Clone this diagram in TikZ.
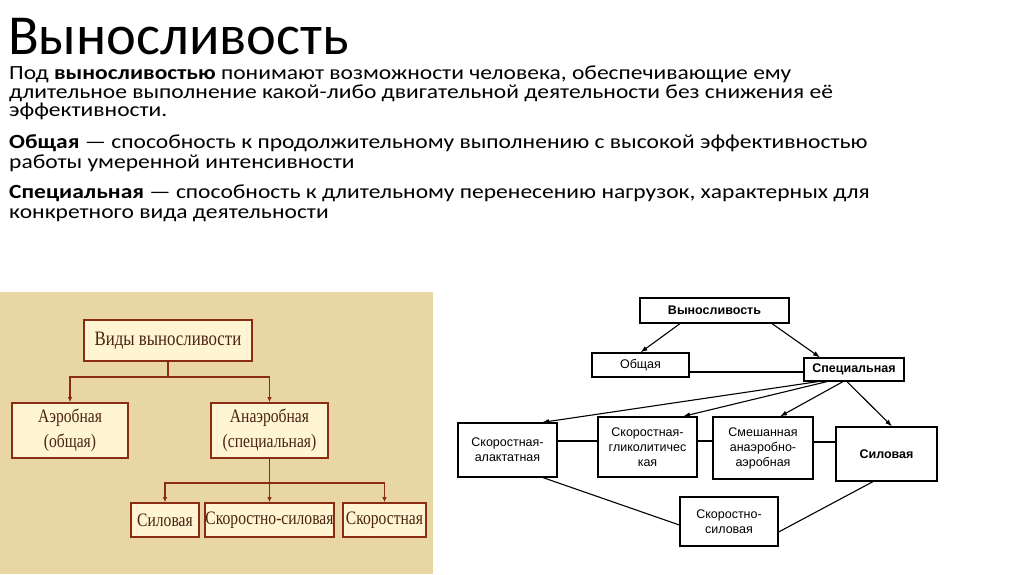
\documentclass[tikz,border=0pt]{standalone}
\usepackage{fontspec}
\setmainfont{Carlito}
\newfontfamily\bodyfont[FakeStretch=1.17]{Carlito}
\newfontfamily\serifru[FakeStretch=0.82]{Liberation Serif}
\newfontfamily\sansru{Liberation Sans}
\usetikzlibrary{arrows.meta}
\definecolor{beige}{HTML}{E8D6A4}
\definecolor{boxfill}{HTML}{FFF5D2}
\definecolor{boxline}{HTML}{8A2C14}
\definecolor{boxtext}{HTML}{4A2410}
\tikzset{
  lineT/.style={anchor=base west, inner sep=0pt, text height=0.7em, text depth=0.2em, font=\bodyfont\fontsize{20.1}{20}\selectfont},
  lbox/.style={draw=boxline, line width=1.6pt, fill=boxfill, text=boxtext, inner sep=0pt, align=center,
     font=\serifru\fontsize{19}{25}\selectfont},
  larr/.style={draw=boxline, line width=1.4pt, -{Latex[length=5pt,width=4.5pt]}},
  lline/.style={draw=boxline, line width=1.4pt},
  rbox/.style={draw=black, line width=1.2pt, fill=white, inner sep=0pt, align=center,
     font=\sansru\fontsize{12.5}{15}\selectfont},
  rbold/.style={font=\sansru\bfseries\fontsize{12.5}{15}\selectfont},
  rarr/.style={draw=black, line width=1.1pt, -{Latex[length=7pt,width=5pt]}},
  rline/.style={draw=black, line width=1.1pt}
}
\begin{document}
\begin{tikzpicture}[x=1pt,y=-1pt]
\useasboundingbox (0,0) rectangle (1024,574);
\fill[white] (0,0) rectangle (1024,574);
% title and text
\node[anchor=base west, inner sep=0pt, text depth=0pt, font=\fontsize{56.5}{56.5}\selectfont] (title) at (8,54) {Выносливость};
\node[lineT] (t1) at (9,79) {Под \textbf{выносливостью} понимают возможности человека, обеспечивающие ему};
\node[lineT] (t2) at (9,98) {длительное выполнение какой-либо двигательной деятельности без снижения её};
\node[lineT] (t3) at (9,116) {эффективности.};
\node[lineT] (t4) at (9,148) {\textbf{Общая} — способность к продолжительному выполнению с высокой эффективностью};
\node[lineT] (t5) at (9,168) {работы умеренной интенсивности};
\node[lineT] (t6) at (9,198) {\textbf{Специальная} — способность к длительному перенесению нагрузок, характерных для};
\node[lineT] (t7) at (9,218) {конкретного вида деятельности};
% left picture
\fill[beige] (0,292) rectangle (433,574);
\node[lbox, minimum width=168pt, minimum height=41pt, font=\serifru\fontsize{20.5}{25}\selectfont] (vid) at (168,340.5) {Виды выносливости};
\node[lbox, minimum width=116pt, minimum height=55pt] (aer) at (70,430.5) {Аэробная\\(общая)};
\node[lbox, minimum width=117pt, minimum height=55pt] (anaer) at (269.5,430.5) {Анаэробная\\(специальная)};
\node[lbox, minimum width=68pt, minimum height=34pt] (sil) at (165,520) {Силовая};
\node[lbox, minimum width=129pt, minimum height=34pt] (sks) at (269.5,520) {Скоростно-силовая};
\node[lbox, minimum width=83pt, minimum height=34pt] (sk) at (384.5,520) {Скоростная};
\coordinate (j1) at (168,377);
\coordinate (j2) at (269.5,483);
\draw[lline] (vid.south) -- (j1);
\draw[larr] (j1) -| (aer.north);
\draw[larr] (j1) -| (anaer.north);
\draw[lline] (anaer.south) -- (j2);
\draw[larr] (j2) -| (sil.north);
\draw[larr] (j2) -- (sks.north);
\draw[larr] (j2) -| (sk.north);
% right diagram
\node[rbox, rbold, minimum width=149pt, minimum height=25pt] (vyn) at (714.5,310.5) {Выносливость};
\node[rbox, minimum width=97pt, minimum height=24pt] (obsh) at (640.5,365) {Общая};
\node[rbox, rbold, minimum width=100pt, minimum height=23pt] (spec) at (854,369.5) {Специальная};
\node[rbox, minimum width=99pt, minimum height=54pt] (alak) at (507.5,450) {Скоростная-\\алактатная};
\node[rbox, minimum width=99pt, minimum height=60pt] (glik) at (647.5,447) {Скоростная-\\гликолитичес\\кая};
\node[rbox, minimum width=100pt, minimum height=62pt] (smesh) at (763,448) {Смешанная\\анаэробно-\\аэробная};
\node[rbox, rbold, minimum width=101pt, minimum height=54pt] (silr) at (886.5,454) {Силовая};
\node[rbox, minimum width=98pt, minimum height=49pt] (sksr) at (729,521.5) {Скоростно-\\силовая};
\draw[rarr] ([xshift=-34.5pt]vyn.south) -- (obsh.north);
\draw[rarr] ([xshift=57.5pt]vyn.south) -- ([xshift=-34pt]spec.north);
\draw[rline] ([yshift=-7pt]obsh.east) -- ([yshift=-7pt]obsh.east -| spec.west);
\draw[rarr] ([xshift=-36pt]spec.south) -- ([xshift=34.5pt]alak.north);
\draw[rarr] ([xshift=-27pt]spec.south) -- ([xshift=35.5pt]glik.north);
\draw[rarr] ([xshift=-11pt]spec.south) -- ([xshift=17pt]smesh.north);
\draw[rarr] ([xshift=-7pt]spec.south) -- ([xshift=5.5pt]silr.north);
\draw[rline] ([yshift=9pt]alak.east) -- ([yshift=9pt]alak.east -| glik.west);
\draw[rline] ([yshift=6pt]glik.east) -- ([yshift=6pt]glik.east -| smesh.west);
\draw[rline] ([yshift=6pt]smesh.east) -- ([yshift=6pt]smesh.east -| silr.west);
\draw[rline] ([xshift=35.5pt]alak.south) -- ([yshift=-3.5pt]sksr.west);
\draw[rline] ([xshift=-13.5pt]silr.south) -- ([yshift=-10.5pt]sksr.east);
\end{tikzpicture}
\end{document}
